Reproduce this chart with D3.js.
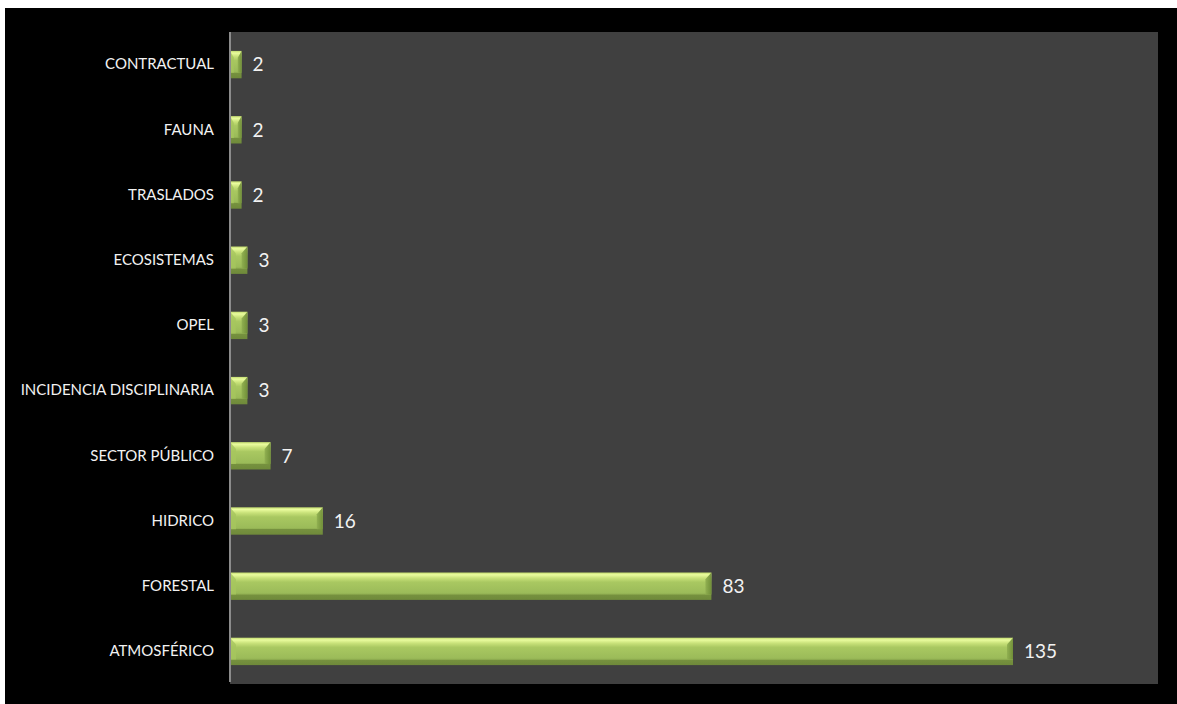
<!DOCTYPE html>
<head>
<meta http-equiv="Content-type" content="text/html;charset=UTF-8">
</head>
<style>
body { margin: 0; background: #fff; }
.axis .domain { stroke: #8c8c8c; stroke-width: 2; }
.axis .tick line { display: none; }
.axis text { fill: #f2f2f2; font-family: Lato, "Open Sans", sans-serif; font-size: 15px; }
</style>
<svg width="1177" height="704"></svg>
<script src="https://d3js.org/d3.v7.min.js"></script>
<script>

// categories top to bottom, and their counts
var categories = ["CONTRACTUAL", "FAUNA", "TRASLADOS", "ECOSISTEMAS", "OPEL",
  "INCIDENCIA DISCIPLINARIA", "SECTOR PÚBLICO", "HIDRICO", "FORESTAL", "ATMOSFÉRICO"];
var counts = [2, 2, 2, 3, 3, 3, 7, 16, 83, 135];
var xMax = 160;

var svg = d3.select("svg");

// black frame and grey plot area
svg.append("rect").attr("x", 5).attr("y", 8).attr("width", 1172).attr("height", 696).attr("fill", "#000");

var plot = {left: 230, top: 32, right: 1158, bottom: 684};
svg.append("rect")
    .attr("x", plot.left).attr("y", plot.top)
    .attr("width", plot.right - plot.left).attr("height", plot.bottom - plot.top)
    .attr("fill", "#404040");

var x = d3.scaleLinear().domain([0, xMax]).range([plot.left, plot.right]);
var y = d3.scaleBand().domain(categories).range([plot.top, plot.bottom]).paddingInner(0.58).paddingOuter(0.29);

var data = categories.map(function(c, i) { return {cat: c, value: counts[i]}; });

// bevel gradients
var defs = svg.append("defs");
var gv = defs.append("linearGradient").attr("id", "barV").attr("x1", 0).attr("y1", 0).attr("x2", 0).attr("y2", 1);
[[0, "#c3dc6f"], [0.08, "#eafc9e"], [0.2, "#c9e27a"], [0.35, "#a9c861"], [0.75, "#9bbb59"],
 [0.8, "#8caa4e"], [0.81, "#76913f"], [1, "#6f8a3a"]].forEach(function(s) {
  gv.append("stop").attr("offset", s[0]).attr("stop-color", s[1]);
});
var gh = defs.append("linearGradient").attr("id", "barEnd").attr("x1", 0).attr("y1", 0).attr("x2", 1).attr("y2", 0);
gh.append("stop").attr("offset", 0).attr("stop-color", "#8fae50");
gh.append("stop").attr("offset", 1).attr("stop-color", "#6b8a34");

var bars = svg.append("g").selectAll("g").data(data).enter().append("g");

bars.append("rect")
    .attr("x", x(0))
    .attr("y", function(d) { return y(d.cat); })
    .attr("width", function(d) { return x(d.value) - x(0); })
    .attr("height", y.bandwidth())
    .attr("fill", "url(#barV)");

// darker right bevel
bars.append("path")
    .attr("d", function(d) {
      var x1 = x(d.value), w = Math.min(6, (x1 - x(0)) / 3), y0 = y(d.cat), h = y.bandwidth();
      return "M" + x1 + "," + y0 + "L" + x1 + "," + (y0 + h * 0.8) + "L" + (x1 - w) + "," + (y0 + h * 0.8) +
        "L" + (x1 - w) + "," + (y0 + h * 0.25) + "Z";
    })
    .attr("fill", "url(#barEnd)")
    .attr("opacity", 0.9);

// lighter left bevel
bars.append("path")
    .attr("d", function(d) {
      var x0 = x(0), w = Math.min(6, (x(d.value) - x0) / 3), y0 = y(d.cat), h = y.bandwidth();
      return "M" + x0 + "," + y0 + "L" + (x0 + w) + "," + (y0 + h * 0.25) + "L" + (x0 + w) + "," + (y0 + h * 0.8) +
        "L" + x0 + "," + (y0 + h * 0.8) + "Z";
    })
    .attr("fill", "#a6c55e")
    .attr("opacity", 0.8);

// value labels
bars.append("text")
    .attr("x", function(d) { return x(d.value) + 11; })
    .attr("y", function(d) { return y(d.cat) + y.bandwidth() / 2; })
    .attr("dy", "0.36em")
    .attr("fill", "#f2f2f2")
    .style("font-family", "Lato, 'Open Sans', sans-serif")
    .style("font-size", "19px")
    .text(function(d) { return d.value; });

// category axis
svg.append("g")
    .attr("class", "axis")
    .attr("transform", "translate(" + plot.left + ",0)")
    .call(d3.axisLeft(y).tickSize(0).tickPadding(16))
    .select(".domain").attr("d", "M0," + plot.top + "V" + (plot.bottom - 2));

</script>
